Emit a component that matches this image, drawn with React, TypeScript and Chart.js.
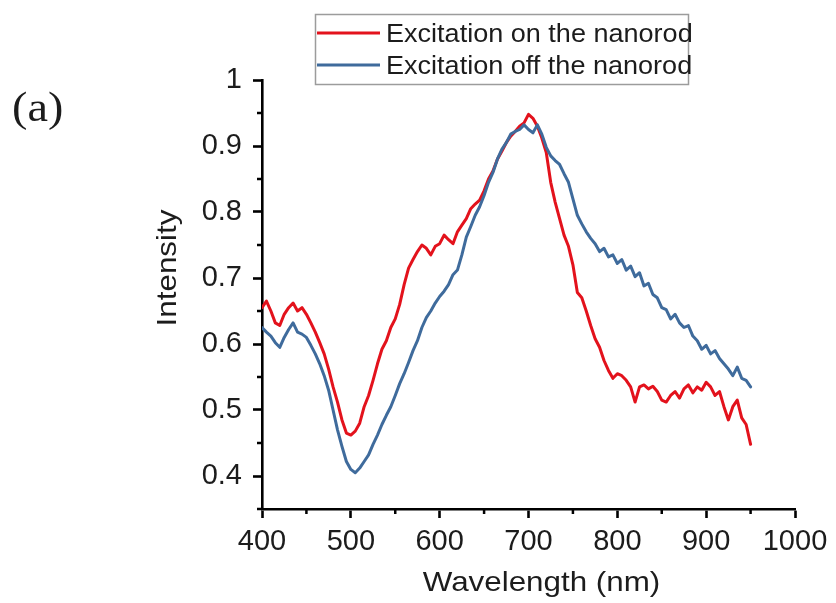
import React, { useEffect, useRef } from "react";
import { Chart, registerables } from "chart.js";

Chart.register(...registerables);

const wavelengths = [
  400, 405, 410, 415, 420, 425, 430, 435, 440, 445,
  450, 455, 460, 465, 470, 475, 480, 485, 490, 495,
  500, 505, 510, 515, 520, 525, 530, 535, 540, 545,
  550, 555, 560, 565, 570, 575, 580, 585, 590, 595,
  600, 605, 610, 615, 620, 625, 630, 635, 640, 645,
  650, 655, 660, 665, 670, 675, 680, 685, 690, 695,
  700, 705, 710, 715, 720, 725, 730, 735, 740, 745,
  750, 755, 760, 765, 770, 775, 780, 785, 790, 795,
  800, 805, 810, 815, 820, 825, 830, 835, 840, 845,
  850, 855, 860, 865, 870, 875, 880, 885, 890, 895,
  900, 905, 910, 915, 920, 925, 930, 935, 940, 945,
  950,
];

const onNanorod = [
  0.655, 0.665, 0.650, 0.632, 0.628, 0.645, 0.655, 0.662, 0.650, 0.655,
  0.645, 0.632, 0.618, 0.602, 0.585, 0.562, 0.535, 0.512, 0.485, 0.465,
  0.462, 0.468, 0.480, 0.505, 0.522, 0.545, 0.570, 0.592, 0.605, 0.625,
  0.638, 0.660, 0.690, 0.715, 0.728, 0.740, 0.750, 0.745, 0.735, 0.748,
  0.752, 0.765, 0.758, 0.752, 0.770, 0.780, 0.790, 0.805, 0.812, 0.818,
  0.832, 0.850, 0.862, 0.880, 0.892, 0.905, 0.915, 0.922, 0.930, 0.935,
  0.948, 0.942, 0.930, 0.912, 0.890, 0.845, 0.815, 0.790, 0.765, 0.748,
  0.720, 0.678, 0.670, 0.650, 0.628, 0.608, 0.595, 0.575, 0.560, 0.548,
  0.555, 0.552, 0.545, 0.535, 0.512, 0.535, 0.538, 0.532, 0.536, 0.528,
  0.515, 0.512, 0.522, 0.528, 0.518, 0.532, 0.538, 0.526, 0.535, 0.530,
  0.542, 0.535, 0.522, 0.528, 0.505, 0.485, 0.505, 0.515, 0.488, 0.478,
  0.448,
];

const offNanorod = [
  0.625, 0.618, 0.612, 0.602, 0.595, 0.610, 0.622, 0.632, 0.618, 0.615,
  0.610, 0.598, 0.585, 0.570, 0.552, 0.530, 0.500, 0.470, 0.445, 0.422,
  0.410, 0.405, 0.412, 0.422, 0.432, 0.448, 0.462, 0.478, 0.492, 0.505,
  0.522, 0.540, 0.555, 0.572, 0.590, 0.605, 0.625, 0.640, 0.650, 0.662,
  0.672, 0.680, 0.690, 0.705, 0.712, 0.735, 0.762, 0.778, 0.795, 0.808,
  0.825, 0.845, 0.860, 0.880, 0.895, 0.905, 0.918, 0.922, 0.925, 0.932,
  0.925, 0.920, 0.932, 0.918, 0.898, 0.885, 0.878, 0.872, 0.858, 0.845,
  0.820, 0.795, 0.782, 0.770, 0.760, 0.752, 0.740, 0.745, 0.732, 0.735,
  0.722, 0.728, 0.712, 0.718, 0.702, 0.708, 0.688, 0.692, 0.675, 0.670,
  0.655, 0.652, 0.638, 0.645, 0.632, 0.625, 0.628, 0.612, 0.605, 0.592,
  0.598, 0.585, 0.590, 0.578, 0.570, 0.562, 0.552, 0.565, 0.548, 0.545,
  0.535,
];

const seriesLabels = ["Excitation on the nanorod", "Excitation off the nanorod"];
const seriesColors = ["#e3121c", "#3f6b9c"];

const xMajorTicks = [400, 500, 600, 700, 800, 900, 1000];
const xMinorTicks = [450, 550, 650, 750, 850, 950];
const xTickLabels = ["400", "500", "600", "700", "800", "900", "1000"];
const yMajorTicks = [0.4, 0.5, 0.6, 0.7, 0.8, 0.9, 1];
const yMinorTicks = [0.35, 0.45, 0.55, 0.65, 0.75, 0.85, 0.95];
const yTickLabels = ["0.4", "0.5", "0.6", "0.7", "0.8", "0.9", "1"];

const xTitle = "Wavelength (nm)";
const yTitle = "Intensity";
const panelLabel = "(a)";

const TEXT = "#1c1c1c";
const SANS = '"Liberation Sans", Arial, sans-serif';

const decorPlugin = {
  id: "decor",
  afterDraw(chart: any) {
    const { ctx, chartArea } = chart;
    const x = chart.scales.x;
    const y = chart.scales.y;
    ctx.save();

    // minor ticks
    ctx.strokeStyle = "#000";
    ctx.lineWidth = 2.5;
    xMinorTicks.forEach((v) => {
      const px = x.getPixelForValue(v);
      ctx.beginPath();
      ctx.moveTo(px, chartArea.bottom);
      ctx.lineTo(px, chartArea.bottom + 5);
      ctx.stroke();
    });
    yMinorTicks.forEach((v) => {
      const py = y.getPixelForValue(v);
      ctx.beginPath();
      ctx.moveTo(chartArea.left, py);
      ctx.lineTo(chartArea.left - 5, py);
      ctx.stroke();
    });

    // axis titles
    ctx.fillStyle = TEXT;
    ctx.font = "28px " + SANS;
    ctx.textAlign = "center";
    ctx.textBaseline = "middle";
    ctx.save();
    ctx.translate((chartArea.left + chartArea.right) / 2 + 13, 583);
    ctx.scale(1.12, 1);
    ctx.fillText(xTitle, 0, 0);
    ctx.restore();

    ctx.save();
    ctx.translate(168, 268);
    ctx.rotate(-Math.PI / 2);
    ctx.scale(1.12, 1);
    ctx.fillText(yTitle, 0, 0);
    ctx.restore();

    // panel label
    ctx.save();
    ctx.font = '42px "Liberation Serif", "Times New Roman", serif';
    ctx.textAlign = "left";
    ctx.textBaseline = "alphabetic";
    ctx.translate(12, 121);
    ctx.scale(1.1, 1);
    ctx.fillText(panelLabel, 0, 0);
    ctx.restore();

    // legend
    const bx = 315.5, by = 14.5, bw = 373, bh = 70;
    ctx.fillStyle = "#fff";
    ctx.fillRect(bx, by, bw, bh);
    ctx.strokeStyle = "#9c9c9c";
    ctx.lineWidth = 1.5;
    ctx.strokeRect(bx, by, bw, bh);
    const rows = [33, 65];
    const baselines = [42, 74];
    seriesLabels.forEach((label, i) => {
      ctx.strokeStyle = seriesColors[i];
      ctx.lineWidth = 3;
      ctx.beginPath();
      ctx.moveTo(317, rows[i]);
      ctx.lineTo(380, rows[i]);
      ctx.stroke();
      ctx.fillStyle = TEXT;
      ctx.font = "26px " + SANS;
      ctx.textAlign = "left";
      ctx.textBaseline = "alphabetic";
      ctx.save();
      ctx.translate(386, baselines[i]);
      ctx.scale(1.04, 1);
      ctx.fillText(label, 0, 0);
      ctx.restore();
    });

    ctx.restore();
  },
};

export default function App() {
  const canvasRef = useRef<HTMLCanvasElement | null>(null);

  useEffect(() => {
    const canvas = canvasRef.current;
    if (!canvas) return;
    const series = [onNanorod, offNanorod];
    const chart = new Chart(canvas, {
      type: "line",
      data: {
        datasets: series.map((vals, i) => ({
          label: seriesLabels[i],
          data: wavelengths.map((w, k) => ({ x: w, y: vals[k] })),
          borderColor: seriesColors[i],
          backgroundColor: seriesColors[i],
          borderWidth: 3,
          borderJoinStyle: "round",
          borderCapStyle: "round",
          pointRadius: 0,
          tension: 0,
          fill: false,
          order: i === 0 ? 1 : 0,
        })),
      },
      options: {
        responsive: false,
        devicePixelRatio: 1,
        animation: false,
        events: [],
        layout: { padding: { left: 0, top: 80, right: 41, bottom: 0 } },
        plugins: {
          legend: { display: false },
          tooltip: { enabled: false },
          title: { display: false },
        },
        scales: {
          x: {
            type: "linear",
            min: 400,
            max: 1000,
            afterFit: (scale: any) => {
              scale.height = 94;
            },
            afterBuildTicks: (scale: any) => {
              scale.ticks = xMajorTicks.map((v) => ({ value: v }));
            },
            border: { display: true, color: "#000", width: 2.6 },
            grid: {
              display: true,
              drawOnChartArea: false,
              drawTicks: true,
              tickLength: 9,
              tickWidth: 2.6,
              tickColor: "#000",
            },
            ticks: {
              autoSkip: false,
              maxRotation: 0,
              padding: 7,
              color: TEXT,
              font: { family: SANS, size: 29 },
              callback: (_v: any, idx: number) => xTickLabels[idx],
            },
          },
          y: {
            type: "linear",
            min: 0.35,
            max: 1,
            afterFit: (scale: any) => {
              scale.width = 262;
            },
            afterBuildTicks: (scale: any) => {
              scale.ticks = yMajorTicks.map((v) => ({ value: v }));
            },
            border: { display: true, color: "#000", width: 2.6 },
            grid: {
              display: true,
              drawOnChartArea: false,
              drawTicks: true,
              tickLength: 9,
              tickWidth: 2.6,
              tickColor: "#000",
            },
            ticks: {
              autoSkip: false,
              padding: 11,
              color: TEXT,
              font: { family: SANS, size: 29 },
              callback: (_v: any, idx: number) => yTickLabels[idx],
            },
          },
        },
      },
      plugins: [decorPlugin],
    });
    return () => chart.destroy();
  }, []);

  return (
    <div
      style={{
        position: "fixed",
        left: 0,
        top: 0,
        width: 836,
        height: 603,
        background: "#fff",
      }}
    >
      <canvas
        ref={canvasRef}
        width={836}
        height={603}
        style={{ display: "block", width: 836, height: 603 }}
      />
    </div>
  );
}
